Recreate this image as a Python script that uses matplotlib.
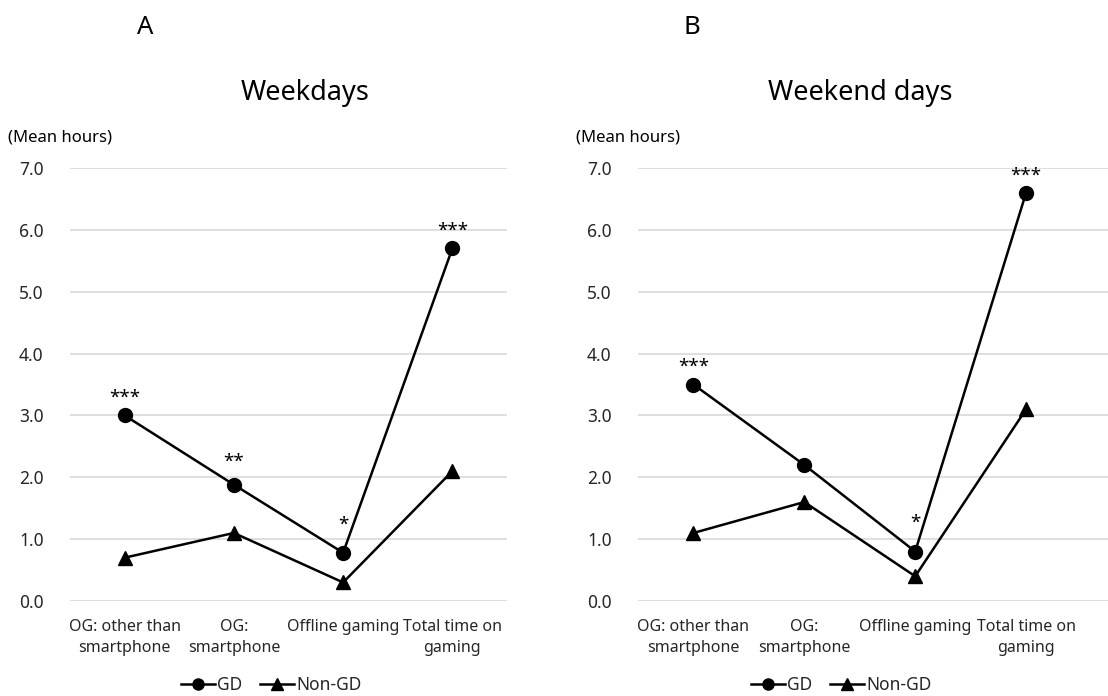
import matplotlib
matplotlib.use("Agg")
import matplotlib.pyplot as plt
from matplotlib.lines import Line2D

plt.rcParams['font.family'] = ['Noto Sans', 'DejaVu Sans']

categories = ["OG: other than\nsmartphone", "OG:\nsmartphone", "Offline gaming", "Total time on\ngaming"]
weekday_gd = [3.0, 1.88, 0.78, 5.7]
weekday_non = [0.7, 1.1, 0.3, 2.1]
weekday_sig = ["***", "**", "*", "***"]
weekend_gd = [3.5, 2.2, 0.8, 6.6]
weekend_non = [1.1, 1.6, 0.4, 3.1]
weekend_sig = ["***", "", "*", "***"]
yticks = [0, 1, 2, 3, 4, 5, 6, 7]

W, H = 1108, 696
fig = plt.figure(figsize=(W / 100, H / 100), dpi=100)

def px_ax(x0, x1, ytop, ybot):
    return fig.add_axes([x0 / W, 1 - ybot / H, (x1 - x0) / W, (ybot - ytop) / H])

TXT = "#262626"

def panel(ax, gd, non, sig, xmax, letter, title, letter_x, title_x, ylab_x, leg_x):
    x = list(range(len(categories)))
    for v in yticks:
        ax.axhline(v, color="#d9d9d9", lw=1.2, zorder=0)
    ax.plot(x, gd, color="black", lw=1.8, marker="o", ms=10, zorder=3)
    ax.plot(x, non, color="black", lw=1.8, marker="^", ms=10, zorder=3)
    for xi, yi, s in zip(x, gd, sig):
        if s:
            off = 6 + 4 * (3 - len(s))
            ax.annotate(s, (xi, yi), xytext=(0, off), textcoords="offset points",
                        ha="center", va="bottom", fontsize=13.5, fontweight="bold", color="black")
    ax.set_xlim(-0.5, xmax)
    ax.set_ylim(0, 7)
    ax.set_yticks(yticks)
    ax.set_yticklabels([f"{v:.1f}" for v in yticks], fontsize=12.5, color=TXT)
    ax.set_xticks(x)
    ax.set_xticklabels(categories, fontsize=11.5, color=TXT, linespacing=1.4)
    ax.tick_params(axis="y", length=0, pad=19)
    ax.tick_params(axis="x", length=0, pad=13)
    for s in ax.spines.values():
        s.set_visible(False)
    ax.patch.set_alpha(0)
    fig.text(letter_x / W, 1 - 28 / H, letter, fontsize=18.5, ha="center", va="center", color="black")
    fig.text(title_x / W, 1 - 93 / H, title, fontsize=19.5, ha="center", va="center", color="black")
    fig.text(ylab_x / W, 1 - 137 / H, "(Mean hours)", fontsize=12, ha="left", va="center", color="black")
    handles = [Line2D([], [], color="black", lw=1.8, marker="o", ms=8),
               Line2D([], [], color="black", lw=1.8, marker="^", ms=8)]
    fig.legend(handles, ["GD", "Non-GD"], loc="center", bbox_to_anchor=(leg_x / W, 1 - 685 / H),
               ncol=2, frameon=False, fontsize=12.5, handlelength=2.0, handletextpad=0.1,
               columnspacing=1.0, labelcolor=TXT)

ax1 = px_ax(70, 507, 168, 601)
panel(ax1, weekday_gd, weekday_non, weekday_sig, 3.5, "A", "Weekdays", 145, 305, 8, 271)

ax2 = px_ax(638, 1108, 168, 601)
xmax2 = 3 + (1108 - 1026) / 111
panel(ax2, weekend_gd, weekend_non, weekend_sig, xmax2, "B", "Weekend days", 692, 860, 576, 841)

fig.savefig("out.png", dpi=100, facecolor="white")
